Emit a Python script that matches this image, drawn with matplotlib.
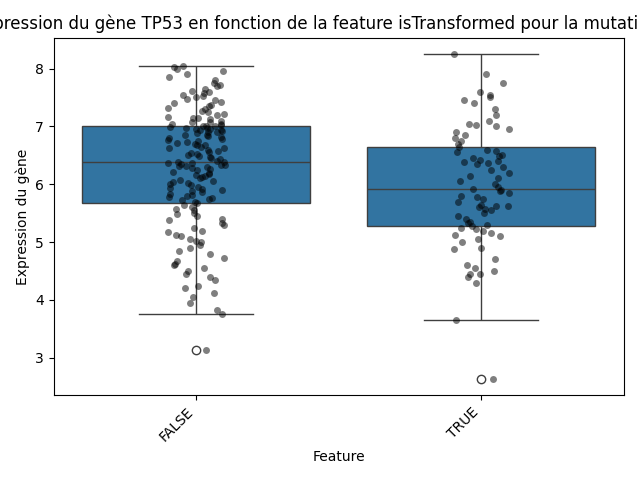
import numpy as np
import pandas as pd
import seaborn as sns
import matplotlib.pyplot as plt

# expression values, per feature group
false_vals = [3.13,
    3.75,3.82,3.95,4.05,4.12,4.2,4.25,4.35,4.4,4.45,4.5,4.55,4.6,4.62,4.68,4.72,4.8,4.85,4.9,4.95,
    5.0,5.02,5.05,5.1,5.12,5.18,5.2,5.25,5.3,5.33,5.38,5.4,5.45,5.48,5.5,5.55,5.58,5.6,5.64,5.67,
    5.7,5.72,5.74,5.76,5.78,5.8,5.82,5.84,5.86,5.88,5.9,5.92,5.94,5.96,5.98,6.0,6.02,6.04,6.06,6.08,
    6.1,6.12,6.14,6.16,6.18,6.2,6.22,6.24,6.26,6.28,6.3,6.31,6.32,6.33,6.34,6.35,6.36,6.37,6.38,6.39,
    6.41,6.43,6.45,6.47,6.49,6.5,6.52,6.54,6.56,6.58,6.6,6.62,6.63,6.65,6.67,6.68,6.7,6.72,6.73,6.75,
    6.77,6.78,6.8,6.82,6.83,6.85,6.86,6.88,6.9,6.91,6.92,6.93,6.94,6.95,6.96,6.97,6.98,6.99,7.0,7.0,
    7.01,7.02,7.04,7.05,7.07,7.08,7.1,7.12,7.14,7.15,7.17,7.2,7.22,7.25,7.27,7.3,7.32,7.35,7.37,7.4,
    7.42,7.45,7.47,7.5,7.52,7.55,7.58,7.6,7.62,7.65,7.7,7.72,7.75,7.8,7.85,7.9,7.95,8.0,8.03,8.05]
true_vals = [2.63,
    3.65,4.3,4.4,4.45,4.45,4.5,4.55,4.6,4.7,4.88,4.9,5.0,5.05,5.1,5.12,5.15,5.2,5.22,5.25,5.27,
    5.3,5.33,5.35,5.4,5.45,5.5,5.55,5.58,5.6,5.62,5.63,5.65,5.7,5.75,5.78,5.8,5.85,5.88,5.9,5.92,
    5.95,6.0,6.05,6.1,6.15,6.2,6.25,6.3,6.35,6.37,6.38,6.4,6.42,6.45,6.48,6.5,6.55,6.58,6.6,6.65,
    6.7,6.75,6.8,6.85,6.9,6.95,7.0,7.02,7.05,7.1,7.2,7.3,7.4,7.45,7.5,7.55,7.6,7.75,7.9,8.25]

df = pd.DataFrame({
    "Feature": ["FALSE"] * len(false_vals) + ["TRUE"] * len(true_vals),
    "Expression": false_vals + true_vals,
})

plt.figure(figsize=(6.39, 4.79), dpi=100)
ax = sns.boxplot(data=df, x="Feature", y="Expression", color="#1f77b4")
sns.stripplot(data=df, x="Feature", y="Expression", color="black", alpha=0.5, jitter=0.1, ax=ax)
ax.set_title("Expression du gène TP53 en fonction de la feature isTransformed pour la mutation TP53")
ax.set_xlabel("Feature")
ax.set_ylabel("Expression du gène")
plt.xticks(rotation=45, ha="right")
plt.tight_layout()
plt.savefig("out.png")
